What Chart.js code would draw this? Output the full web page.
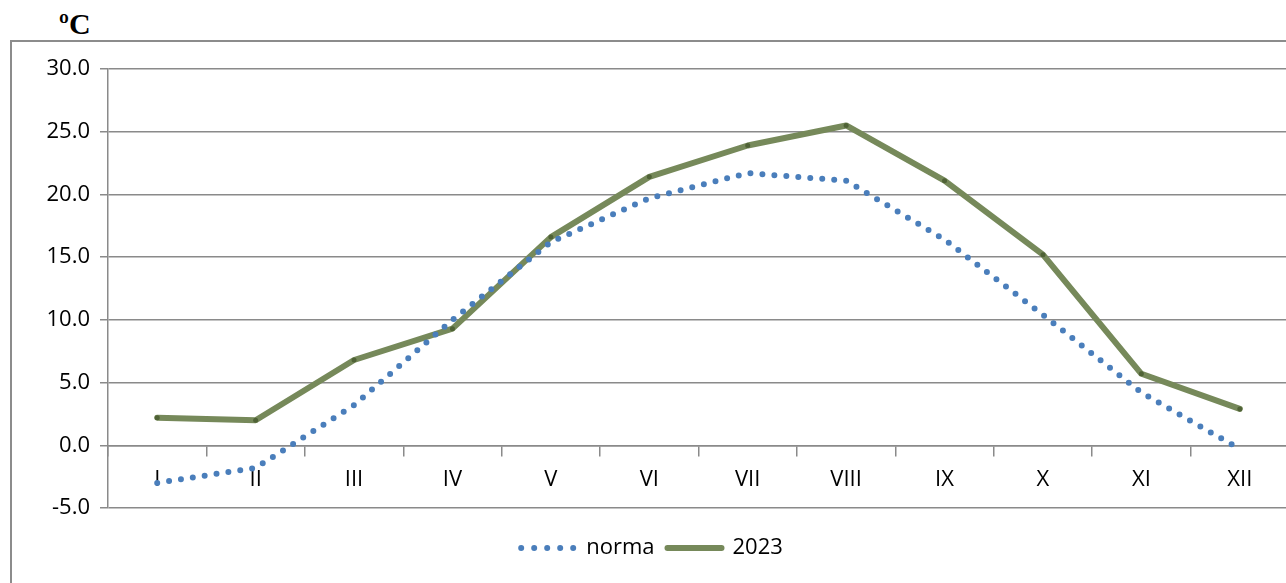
<!DOCTYPE html>
<html lang="en">
<head>
  <meta charset="UTF-8">
  <title>Temperatura</title>
  <script src="https://cdn.jsdelivr.net/npm/chart.js"></script>
  <style>
    html, body {
      margin: 0;
      padding: 0;
      background: #fff;
      overflow: hidden;
      width: 1286px;
      height: 583px;
    }
    .frame {
      position: absolute;
      left: 10px;
      top: 40px;
      width: 1300px;
      height: 600px;
      border-left: 2px solid #8c8c8c;
      border-top: 2px solid #8c8c8c;
    }
    .unit {
      position: absolute;
      left: 59px;
      top: 7px;
      font-family: 'Liberation Serif', serif;
      font-weight: bold;
      font-size: 30px;
      color: #000;
    }
    .wrap {
      position: absolute;
      left: 0;
      top: 0;
      width: 1293px;
      height: 583px;
    }
  </style>
</head>
<body>
  <div class="frame"></div>
  <div class="unit">ºC</div>
  <div class="wrap"><canvas id="tempChart"></canvas></div>

  <script>
    const months = ['I', 'II', 'III', 'IV', 'V', 'VI', 'VII', 'VIII', 'IX', 'X', 'XI', 'XII'];
    const norma = [-3.0, -1.8, 3.2, 10.0, 16.2, 19.7, 21.7, 21.1, 16.4, 10.4, 4.2, -0.3];
    const y2023 = [2.2, 2.0, 6.8, 9.3, 16.6, 21.4, 23.9, 25.5, 21.1, 15.2, 5.7, 2.9];
    const yTicks = [-5, 0, 5, 10, 15, 20, 25, 30];

    const gray = '#8a8a8a';
    const font = { family: "'Open Sans', sans-serif", size: 22 };

    // legend drawn by hand: dotted sample for norma, thick line for 2023
    const legendPlugin = {
      id: 'handLegend',
      afterDraw(chart) {
        const c = chart.ctx;
        const ds = chart.data.datasets;
        c.save();
        c.font = `${font.size}px ${font.family}`;
        c.textBaseline = 'middle';
        const y = chart.chartArea.bottom + 40;
        const sample = 56, gapText = 12, gapItem = 10;
        let total = 0;
        ds.forEach((d, i) => {
          total += sample + gapText + c.measureText(d.label).width + (i ? 0 : gapItem);
        });
        let x = chart.width / 2 - total / 2 + 4;
        ds.forEach((d, i) => {
          c.strokeStyle = d.borderColor;
          c.lineWidth = d.borderWidth;
          c.lineCap = 'round';
          c.setLineDash(d.borderDash ? [0, 13] : []);
          c.beginPath();
          c.moveTo(x + 3, y);
          c.lineTo(x + sample + 1, y);
          c.stroke();
          c.setLineDash([]);
          x += sample + gapText;
          c.fillStyle = '#000';
          c.fillText(d.label, x, y);
          x += c.measureText(d.label).width + gapItem;
        });
        c.restore();
      }
    };

    const ctx = document.getElementById('tempChart').getContext('2d');
    new Chart(ctx, {
      type: 'line',
      data: {
        labels: months,
        datasets: [
          {
            label: 'norma',
            data: norma,
            borderColor: '#4a7ebb',
            borderWidth: 6,
            borderDash: [0, 12],
            borderCapStyle: 'round',
            pointRadius: 0,
            tension: 0
          },
          {
            label: '2023',
            data: y2023,
            borderColor: '#76895a',
            borderWidth: 6,
            borderCapStyle: 'round',
            borderJoinStyle: 'round',
            pointRadius: 2.5,
            pointBackgroundColor: '#4f6236',
            pointBorderWidth: 0,
            tension: 0
          }
        ]
      },
      options: {
        responsive: true,
        maintainAspectRatio: false,
        animation: false,
        layout: { padding: { top: 69, left: 0, right: 0, bottom: 75 } },
        scales: {
          y: {
            min: -5,
            max: 30,
            afterBuildTicks: s => { s.ticks = yTicks.map(v => ({ value: v })); },
            afterFit: s => { s.width = 108; },
            ticks: {
              color: '#000',
              font: font,
              padding: 10,
              callback: v => v.toFixed(1)
            },
            grid: { color: gray, lineWidth: 1.5, tickLength: 8 },
            border: { color: gray, width: 1.5 }
          },
          x: {
            position: { y: 0 },
            offset: true,
            ticks: { color: '#000', font: font, padding: 11 },
            grid: {
              offset: true,
              drawOnChartArea: false,
              drawTicks: true,
              tickLength: 10,
              color: gray,
              lineWidth: 1.5
            },
            border: { color: gray, width: 1.5 }
          }
        },
        plugins: {
          tooltip: { enabled: false },
          legend: { display: false }
        }
      },
      plugins: [legendPlugin]
    });
  </script>
</body>
</html>
